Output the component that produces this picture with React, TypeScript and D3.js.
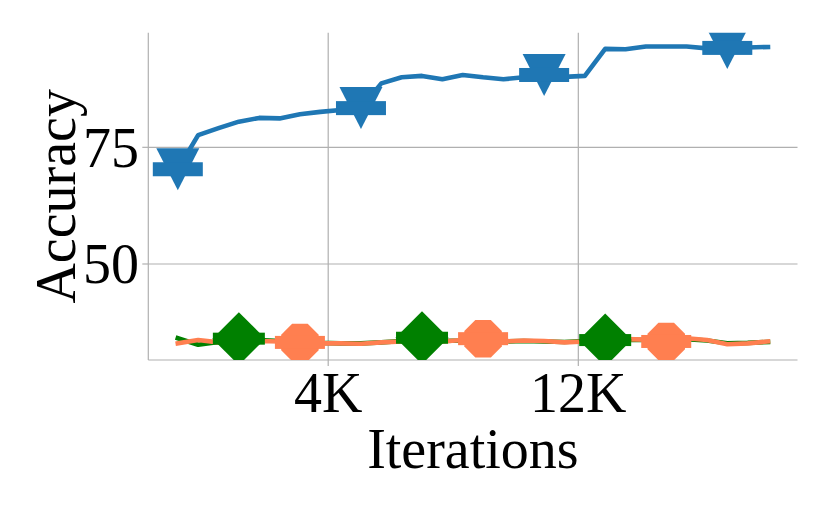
import React from 'react';
import * as d3 from 'd3';

const stepIndex = [0, 1, 2, 3, 4, 5, 6, 7, 8, 9, 10, 11, 12, 13, 14, 15, 16, 17, 18, 19, 20, 21, 22, 23, 24, 25, 26, 27, 28, 29];
const blueAcc = [70.3, 77.6, 79.1, 80.5, 81.3, 81.2, 82.1, 82.6, 83.0, 83.4, 88.7, 90.0, 90.3, 89.6, 90.5, 90.0, 89.6, 90.0, 90.5, 90.1, 90.3, 96.1, 96.0, 96.6, 96.6, 96.6, 96.2, 96.3, 96.4, 96.5];
const greenAcc = [34.1, 32.7, 33.3, 34.0, 33.7, 33.5, 33.3, 33.1, 33.0, 33.0, 33.2, 33.5, 34.2, 33.5, 33.6, 33.8, 33.4, 33.5, 33.4, 33.3, 33.5, 33.7, 33.8, 33.7, 33.5, 33.9, 33.6, 33.0, 33.1, 33.3];
const coralAcc = [33.0, 33.7, 33.2, 33.3, 33.5, 33.4, 33.2, 33.0, 33.0, 32.9, 33.2, 33.4, 33.4, 33.4, 33.7, 34.0, 33.4, 33.6, 33.5, 33.2, 33.4, 33.9, 33.9, 33.8, 33.4, 34.1, 33.7, 32.8, 33.0, 33.4];
const blueMarkIdx = [0, 9, 18, 27];
const greenMarkIdx = [3, 12, 21];
const coralMarkIdx = [6, 15, 24];
const xTickPos = [7.39, 19.68];
const xTickLabels = ['4K', '12K'];
const yTicks = [50, 75];
const yTickLabels = ['50', '75'];

const W = 830, H = 513;
const L = 148.3, R = 797.5, T = 32.7, B = 360;
const FONT = '"Liberation Serif", serif';
const FS = 56;
const GRID = '#b0b0b0';
const LW = 4.6;

export default function App() {
  const x = d3.scaleLinear().domain([-1.45, 30.45]).range([L, R]);
  const y = d3.scaleLinear().domain([29.43, 99.56]).range([B, T]);
  const mk = (vals: number[]) =>
    d3.line<number>().x((_, i) => x(stepIndex[i])).y((v) => y(v))(vals) || '';

  const tri = (cx: number, cy: number) =>
    `M${cx - 21.5},${cy - 21}L${cx + 21.5},${cy - 21}L${cx},${cy + 21}Z`;
  const oct = (cx: number, cy: number) => {
    const r = 20.3;
    const pts = d3.range(8).map((k) => {
      const a = (Math.PI / 8) + (k * Math.PI) / 4;
      return [cx + r * Math.cos(a), cy + r * Math.sin(a)];
    });
    return 'M' + pts.map((p) => p.join(',')).join('L') + 'Z';
  };
  const dia = (cx: number, cy: number) =>
    `M${cx},${cy - 26.5}L${cx + 26.5},${cy}L${cx},${cy + 26.5}L${cx - 26.5},${cy}Z`;

  return (
    <svg width={W} height={H} style={{ position: 'fixed', left: 0, top: 0, background: '#fff' }}>
      <defs>
        <clipPath id="plotclip">
          <rect x={L} y={T} width={R - L} height={B - T} />
        </clipPath>
      </defs>
      {xTickPos.map((t, i) => (
        <line key={'gx' + i} x1={x(t)} x2={x(t)} y1={T} y2={B} stroke={GRID} strokeWidth={1.2} />
      ))}
      {yTicks.map((t, i) => (
        <line key={'gy' + i} x1={L} x2={R} y1={y(t)} y2={y(t)} stroke={GRID} strokeWidth={1.2} />
      ))}
      <line x1={L} x2={L} y1={T} y2={B} stroke={GRID} strokeWidth={1.2} />
      <line x1={L} x2={R} y1={B} y2={B} stroke={GRID} strokeWidth={1.2} />
      {xTickPos.map((t, i) => (
        <line key={'tx' + i} x1={x(t)} x2={x(t)} y1={B} y2={B + 6} stroke={GRID} strokeWidth={1.2} />
      ))}
      {yTicks.map((t, i) => (
        <line key={'ty' + i} x1={L - 6} x2={L} y1={y(t)} y2={y(t)} stroke={GRID} strokeWidth={1.2} />
      ))}
      <g clipPath="url(#plotclip)">
        <path d={mk(blueAcc)} fill="none" stroke="#1f77b4" strokeWidth={LW} strokeLinejoin="round" strokeLinecap="square" />
        <path d={mk(greenAcc)} fill="none" stroke="#008000" strokeWidth={LW} strokeLinejoin="round" strokeLinecap="square" />
        <path d={mk(coralAcc)} fill="none" stroke="#ff7f50" strokeWidth={LW} strokeLinejoin="round" strokeLinecap="square" />
        {blueMarkIdx.map((k) => {
          const cx = x(stepIndex[k]), cy = y(blueAcc[k]);
          return (
            <g key={'bm' + k} fill="#1f77b4">
              <path d={tri(cx, cy)} />
              <rect x={cx - 25} y={cy - 7} width={50} height={14} />
            </g>
          );
        })}
        {greenMarkIdx.map((k) => {
          const cx = x(stepIndex[k]), cy = y(greenAcc[k]);
          return (
            <g key={'gm' + k} fill="#008000">
              <path d={dia(cx, cy)} />
              <rect x={cx - 26} y={cy - 6} width={52} height={12} />
            </g>
          );
        })}
        {coralMarkIdx.map((k) => {
          const cx = x(stepIndex[k]), cy = y(coralAcc[k]);
          return (
            <g key={'cm' + k} fill="#ff7f50">
              <path d={oct(cx, cy)} />
              <rect x={cx - 25} y={cy - 6.5} width={50} height={13} />
            </g>
          );
        })}
      </g>
      {xTickPos.map((t, i) => (
        <text key={'lx' + i} x={x(t)} y={412} textAnchor="middle" fontFamily={FONT} fontSize={FS} fill="#000">
          {xTickLabels[i]}
        </text>
      ))}
      {yTicks.map((t, i) => (
        <text key={'ly' + i} x={139} y={y(t) + 19.5} textAnchor="end" fontFamily={FONT} fontSize={FS} fill="#000">
          {yTickLabels[i]}
        </text>
      ))}
      <text x={(L + R) / 2} y={468} textAnchor="middle" fontFamily={FONT} fontSize={FS} fill="#000">
        Iterations
      </text>
      <text transform={`translate(75,${(T + B) / 2}) rotate(-90)`} textAnchor="middle" fontFamily={FONT} fontSize={FS} fill="#000">
        Accuracy
      </text>
    </svg>
  );
}
